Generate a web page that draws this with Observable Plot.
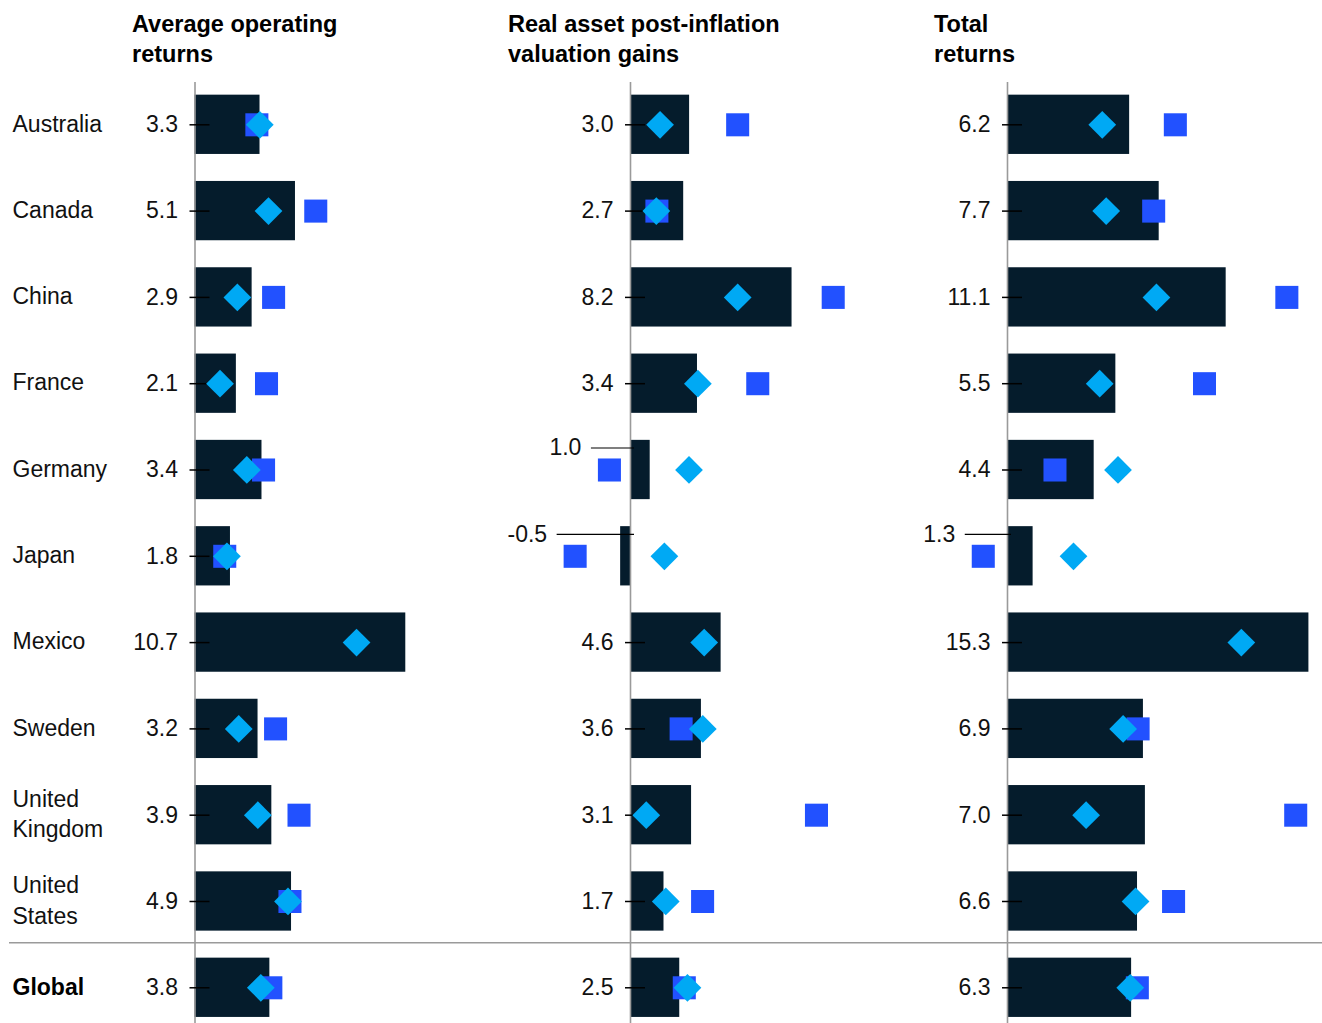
<!DOCTYPE html>
<html>
<head>
<meta charset="utf-8">
<script src="https://cdn.jsdelivr.net/npm/d3@7"></script>
<script src="https://cdn.jsdelivr.net/npm/@observablehq/plot@0.6"></script>
<style>
  body { margin: 0; background: #fff; }
  #chart { position: relative; width: 1322px; height: 1023px; font-family: "Liberation Sans", Arial, sans-serif; color: #000; overflow: hidden; }
  .title { position: absolute; top: 9px; font-weight: bold; font-size: 23.5px; line-height: 30px; white-space: pre-line; }
  .panel { position: absolute; top: 82px; }
</style>
</head>
<body>
<div id="chart"></div>
<script>
// ---- Data ----
const countries = ["Australia", "Canada", "China", "France", "Germany", "Japan", "Mexico", "Sweden", "United\nKingdom", "United\nStates", "Global"];
const panelTitles = ["Average operating\nreturns", "Real asset post-inflation\nvaluation gains", "Total\nreturns"];

// Average operating returns
const opBar     = [3.3, 5.1, 2.9, 2.1, 3.4, 1.8, 10.7, 3.2, 3.9, 4.9, 3.8];
const opDiamond = [3.29, 3.73, 2.15, 1.27, 2.63, 1.62, 8.2, 2.22, 3.19, 4.72, 3.34];
const opSquare  = [3.14, 6.13, 3.99, 3.63, 3.48, 1.51, null, 4.09, 5.28, 4.82, 3.85];

// Real asset post-inflation valuation gains
const valBar     = [3.0, 2.7, 8.2, 3.4, 1.0, -0.5, 4.6, 3.6, 3.1, 1.7, 2.5];
const valDiamond = [1.5, 1.31, 5.44, 3.42, 2.97, 1.72, 3.74, 3.67, 0.80, 1.79, 2.89];
const valSquare  = [5.44, 1.34, 10.29, 6.46, -1.07, -2.81, null, 2.57, 9.44, 3.66, 2.73];

// Total returns
const totBar     = [6.2, 7.7, 11.1, 5.5, 4.4, 1.3, 15.3, 6.9, 7.0, 6.6, 6.3];
const totDiamond = [4.81, 5.01, 7.56, 4.68, 5.61, 3.35, 11.87, 5.87, 3.99, 6.5, 6.23];
const totSquare  = [8.52, 7.42, 14.18, 10.0, 2.41, -1.23, null, 6.63, 14.63, 8.43, 6.59];

// ---- Layout ----
const K = 19.7; // px per percentage point
const plotH = 941;
const panels = [
  {title: panelTitles[0], titleX: 132, left: 0,   width: 440, zero: 194.5, bar: opBar,  diamond: opDiamond,  square: opSquare,  names: true},
  {title: panelTitles[1], titleX: 508, left: 440, width: 450, zero: 190,   bar: valBar, diamond: valDiamond, square: valSquare, names: false},
  {title: panelTitles[2], titleX: 934, left: 890, width: 432, zero: 117,   bar: totBar, diamond: totDiamond, square: totSquare, names: false}
];

const colors = {bar: "#051c2c", square: "#2251ff", diamond: "#00a9f4", axis: "#9a9a9a", ink: "#000"};
const fmt = v => v.toFixed(1);
const chart = document.getElementById("chart");

for (const p of panels) {
  const t = document.createElement("div");
  t.className = "title";
  t.style.left = p.titleX + "px";
  t.textContent = p.title;
  chart.appendChild(t);

  const rows = countries.map((c, i) => ({
    country: c, bar: p.bar[i], diamond: p.diamond[i], square: p.square[i],
    up: p.square[i] != null && p.square[i] < 0
  }));
  const normal = rows.filter(d => !d.up);
  const upRows = rows.filter(d => d.up);

  const marks = [
    Plot.ruleY(["Global"], {dy: -45, stroke: colors.axis, strokeWidth: 1.5, insetLeft: p.names ? 9 : 0}),
    Plot.barX(rows, {y: "country", x: "bar", fill: colors.bar}),
    Plot.ruleX([0], {stroke: colors.axis, strokeWidth: 1.6}),
    Plot.ruleY(normal, {y: "country", x1: 0, x2: 0, insetLeft: -5, insetRight: -15, stroke: colors.ink, strokeWidth: 1.5}),
    Plot.ruleY(upRows, {y: "country", x1: "square", x2: 0, insetLeft: -18, insetRight: -4, dy: -22, stroke: colors.ink, strokeWidth: 1.2}),
    Plot.dot(rows, {y: "country", x: "square", symbol: "square", r: 13, fill: colors.square}),
    Plot.dot(rows, {y: "country", x: "diamond", symbol: "diamond2", r: 12.5, fill: colors.diamond}),
    Plot.text(normal, {y: "country", x: 0, text: d => fmt(d.bar), dx: -17, textAnchor: "end", fontSize: 23, fill: "#111"}),
    Plot.text(upRows, {y: "country", x: "square", text: d => fmt(d.bar), dx: -28, dy: -22, textAnchor: "end", fontSize: 23, fill: "#111"})
  ];
  if (p.names) {
    marks.push(
      Plot.text(rows.filter(d => d.country !== "Global"), {y: "country", text: "country", frameAnchor: "left", dx: 12, dy: -3, textAnchor: "start", fontSize: 23, lineHeight: 1.33, fill: "#111"}),
      Plot.text(rows.filter(d => d.country === "Global"), {y: "country", text: "country", frameAnchor: "left", dx: 12, textAnchor: "start", fontSize: 23, fontWeight: "bold", fill: "#000"})
    );
  }

  const svg = Plot.plot({
    width: p.width,
    height: plotH,
    marginTop: 0, marginBottom: 0, marginLeft: 0, marginRight: 0,
    style: {fontFamily: "'Liberation Sans', Arial, sans-serif", fontSize: "23px", background: "transparent", overflow: "visible"},
    x: {domain: [-p.zero / K, (p.width - p.zero) / K], axis: null},
    y: {domain: countries, paddingInner: 0.313, paddingOuter: 0.1085, align: 0.676, round: false, axis: null},
    marks
  });
  const wrap = document.createElement("div");
  wrap.className = "panel";
  wrap.style.left = p.left + "px";
  wrap.appendChild(svg);
  chart.appendChild(wrap);
}
</script>
</body>
</html>
